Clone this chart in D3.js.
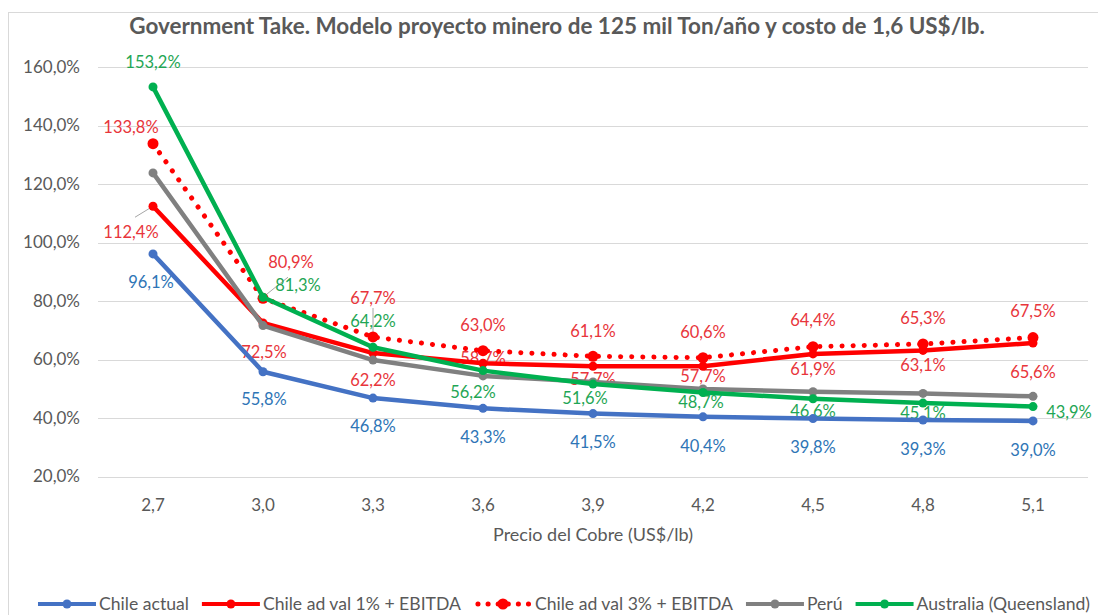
<!DOCTYPE html>
<html>
<head>
<meta charset="utf-8">
<script src="https://cdnjs.cloudflare.com/ajax/libs/d3/7.8.5/d3.min.js"></script>
<style>
  body { margin: 0; background: #fff; }
  svg { display: block; font-family: Lato, "Open Sans", sans-serif; }
</style>
</head>
<body>
<div id="container"></div>
<script>
// data
var categories = ["2,7", "3,0", "3,3", "3,6", "3,9", "4,2", "4,5", "4,8", "5,1"];
var chileActual = [96.1, 55.8, 46.8, 43.3, 41.5, 40.4, 39.8, 39.3, 39.0];
var chileAdVal1 = [112.4, 72.5, 62.2, 58.7, 57.7, 57.7, 61.9, 63.1, 65.6];
var chileAdVal3 = [133.8, 80.9, 67.7, 63.0, 61.1, 60.6, 64.4, 65.3, 67.5];
var peru = [123.8, 71.6, 59.8, 54.4, 52.3, 49.9, 49.0, 48.4, 47.4];
var australia = [153.2, 81.3, 64.2, 56.2, 51.6, 48.7, 46.6, 45.1, 43.9];
var yTicks = [20, 40, 60, 80, 100, 120, 140, 160];
var seriesNames = ["Chile actual", "Chile ad val 1% + EBITDA", "Chile ad val 3% + EBITDA", "Perú", "Australia (Queensland)"];

var W = 1098, H = 615;
var textColor = "#595959";

var series = [
  {name: seriesNames[0], values: chileActual, color: "#4472C4", label: "#2E75B6", dotted: false, r: 4.5,
   off: [[-2, 28], [1, 27], [0, 28], [0, 29], [0, 29], [0, 29], [0, 29], [0, 29], [0, 29]]},
  {name: seriesNames[1], values: chileAdVal1, color: "#FF0000", label: "#E8353B", dotted: false, r: 4.5,
   off: [[-22, 26], [1, 29], [0, 27], [0, -5], [0, 13], [0, 10], [0, 15], [0, 15], [0, 29]], leader: [0]},
  {name: seriesNames[2], values: chileAdVal3, color: "#FF0000", label: "#E8353B", dotted: true, r: 5.5,
   off: [[-22, -16], [28, -36], [0, -39], [0, -26], [0, -25], [0, -26], [0, -26], [0, -26], [0, -26]], leader: [2]},
  {name: seriesNames[3], values: peru, color: "#808080", label: null, dotted: false, r: 4.5},
  {name: seriesNames[4], values: australia, color: "#00B050", label: "#1FA655", dotted: false, r: 4.5,
   off: [[0, -25], [35, -12], [0, -26], [-10, 22], [-8, 14], [-2, 10], [0, 13], [0, 10], [36, 6]], leader: [1]}
];

var svg = d3.select("#container").append("svg").attr("width", W).attr("height", H);

// chart border
svg.append("rect").attr("x", 8.5).attr("y", 12.5).attr("width", 1200).attr("height", 700)
  .attr("fill", "none").attr("stroke", "#d9d9d9");

var x = d3.scaleBand().domain(categories).range([98, 1088]);
var y = d3.scaleLinear().domain([20, 160]).range([476.5, 67]);
var cx = function(i) { return x(categories[i]) + x.bandwidth() / 2; };

var fmt = function(v) { return d3.format(".1f")(v).replace(".", ",") + "%"; };

// gridlines
svg.append("g").selectAll("line").data(yTicks).enter().append("line")
  .attr("x1", 98).attr("x2", 1088)
  .attr("y1", function(d) { return Math.round(y(d)) + 0.5; })
  .attr("y2", function(d) { return Math.round(y(d)) + 0.5; })
  .attr("stroke", "#d9d9d9").attr("stroke-width", 1);

// axes
var yAxis = svg.append("g").attr("transform", "translate(98,0)")
  .call(d3.axisLeft(y).tickValues(yTicks).tickSize(0).tickPadding(18).tickFormat(fmt));
yAxis.select(".domain").remove();
yAxis.selectAll("text").attr("fill", textColor).style("font-size", "17px").style("font-family", "Lato");

var xAxis = svg.append("g").attr("transform", "translate(0,476.5)")
  .call(d3.axisBottom(x).tickSize(0).tickPadding(22));
xAxis.select(".domain").remove();
xAxis.selectAll("text").attr("fill", textColor).style("font-size", "17px").style("font-family", "Lato");

svg.append("text").attr("x", 593).attr("y", 535).attr("dy", "0.35em")
  .attr("text-anchor", "middle").attr("fill", textColor).style("font-size", "18px")
  .text("Precio del Cobre (US$/lb)");

// title
var title = svg.append("text").attr("x", 557).attr("y", 26).attr("dy", "0.35em")
  .attr("text-anchor", "middle").attr("fill", textColor)
  .style("font-size", "20px").style("font-weight", "bold")
  .text("Government Take. Modelo proyecto minero de 125 mil Ton/año y costo de 1,6 US$/lb.");
var tw = title.node().getComputedTextLength();
title.style("font-size", (20 * 856 / tw).toFixed(2) + "px");

// data labels (under the lines, as in the picture)
var labelG = svg.append("g");
series.forEach(function(s) {
  if (!s.label) return;
  s.values.forEach(function(v, i) {
    var px = cx(i), py = y(v);
    var lx = px + s.off[i][0], ly = py + s.off[i][1];
    if (s.leader && s.leader.indexOf(i) >= 0) {
      var x1, y1;
      if (s.off[i][0] < -5) { x1 = lx + 4; y1 = ly - 15; }
      else if (s.off[i][0] > 5) { x1 = lx - 10; y1 = ly - 8; }
      else { x1 = lx; y1 = ly + 10; }
      labelG.append("line").attr("x1", x1).attr("y1", y1).attr("x2", px).attr("y2", py)
        .attr("stroke", "#a6a6a6").attr("stroke-width", 1);
    }
    labelG.append("text").attr("x", lx).attr("y", ly).attr("dy", "0.35em")
      .attr("text-anchor", "middle").attr("fill", s.label)
      .style("font-size", "16.5px").text(fmt(v));
  });
});

// lines and markers
var line = d3.line()
  .x(function(d, i) { return cx(i); })
  .y(function(d) { return y(d); });

series.forEach(function(s) {
  var g = svg.append("g");
  g.append("path").datum(s.values).attr("d", line)
    .attr("fill", "none").attr("stroke", s.color)
    .attr("stroke-width", s.dotted ? 5 : 4.5)
    .attr("stroke-linecap", "round").attr("stroke-linejoin", "round")
    .attr("stroke-dasharray", s.dotted ? "0.1,11" : null);
  g.selectAll("circle").data(s.values).enter().append("circle")
    .attr("cx", function(d, i) { return cx(i); })
    .attr("cy", function(d) { return y(d); })
    .attr("r", s.r).attr("fill", s.color);
});

// legend
var legend = svg.append("g");
var lx0 = 0, legendY = 604;
series.forEach(function(s) {
  var item = legend.append("g").attr("transform", "translate(" + lx0 + ",0)");
  item.append("line").attr("x1", 0).attr("x2", 58).attr("y1", legendY).attr("y2", legendY)
    .attr("stroke", s.color).attr("stroke-width", s.dotted ? 5 : 4)
    .attr("stroke-linecap", s.dotted ? "round" : "butt")
    .attr("stroke-dasharray", s.dotted ? "0.1,10" : null)
    .attr("stroke-dashoffset", s.dotted ? -4 : null);
  item.append("circle").attr("cx", 29).attr("cy", legendY).attr("r", s.dotted ? 5.5 : 4.5).attr("fill", s.color);
  var t = item.append("text").attr("x", 61).attr("y", legendY).attr("dy", "0.35em")
    .attr("fill", textColor).style("font-size", "17.6px").text(s.name);
  lx0 += 61 + t.node().getComputedTextLength() + 13;
});
var legendW = lx0 - 13;
legend.attr("transform", "translate(" + (564 - legendW / 2) + ",0)");
</script>
</body>
</html>
